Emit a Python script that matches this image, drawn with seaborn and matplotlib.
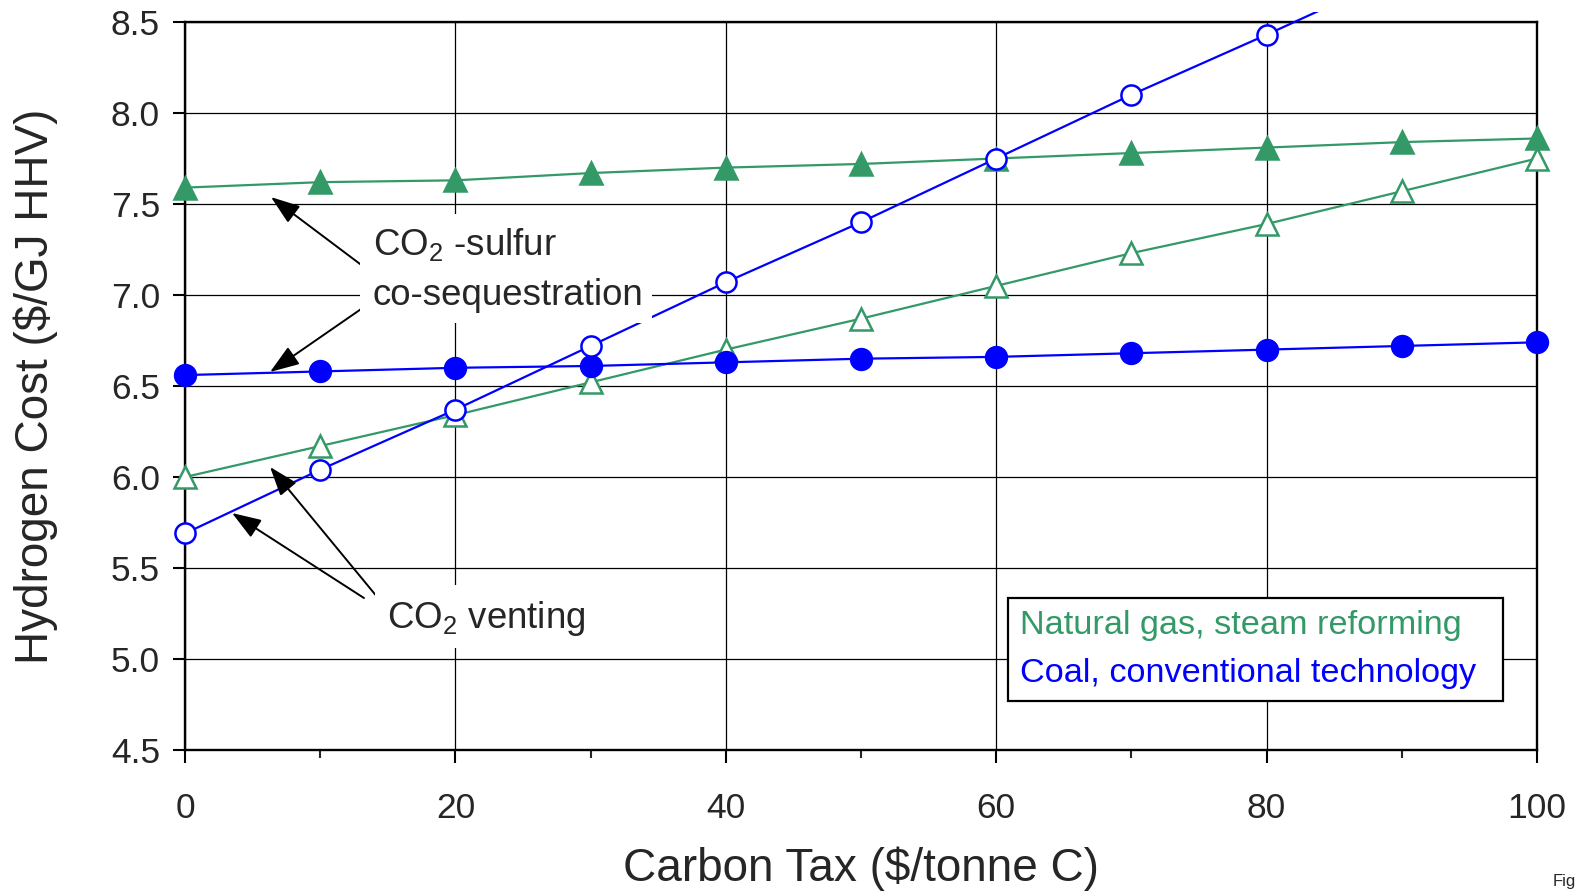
import matplotlib
matplotlib.use("Agg")
import matplotlib.pyplot as plt
from matplotlib.patches import Rectangle
from matplotlib.lines import Line2D
from matplotlib.ticker import MultipleLocator
import seaborn as sns

# ---- data ----
carbon_tax = [0, 10, 20, 30, 40, 50, 60, 70, 80, 90, 100]
ng_seq = [7.59, 7.62, 7.63, 7.67, 7.70, 7.72, 7.75, 7.78, 7.81, 7.84, 7.86]
ng_vent = [6.00, 6.17, 6.34, 6.52, 6.70, 6.87, 7.05, 7.23, 7.39, 7.57, 7.75]
coal_seq = [6.56, 6.58, 6.60, 6.61, 6.63, 6.65, 6.66, 6.68, 6.70, 6.72, 6.74]
coal_vent = [5.69, 6.04, 6.37, 6.72, 7.07, 7.40, 7.75, 8.10, 8.43, 8.77, 9.11]

legend_labels = ["Natural gas, steam reforming", "Coal, conventional technology"]
x_label = "Carbon Tax ($/tonne C)"
y_label = "Hydrogen Cost ($/GJ HHV)"
y_tick_labels = ["4.5", "5.0", "5.5", "6.0", "6.5", "7.0", "7.5", "8.0", "8.5"]

GREEN = "#339966"
BLUE = "#0000FF"

sns.set_style("ticks")
plt.rcParams["font.family"] = ["Liberation Sans", "DejaVu Sans"]
plt.rcParams["mathtext.fontset"] = "custom"
plt.rcParams["mathtext.rm"] = "Liberation Sans"
plt.rcParams["mathtext.default"] = "regular"

fig = plt.figure(figsize=(15.76, 8.92), dpi=100)
ax = fig.add_axes([185 / 1576, 1 - 750 / 892, 1352 / 1576, 728 / 892])

clip_rect = Rectangle((-5, 4.3), 110, 4.255, transform=ax.transData)

def draw(y, color, marker, filled, ms):
    sns.lineplot(x=carbon_tax, y=y, ax=ax, color=color, marker=marker,
                 markersize=ms, linewidth=1.6,
                 markerfacecolor=color if filled else "white",
                 markeredgecolor=color, markeredgewidth=1.8,
                 zorder=3)
    ln = ax.lines[-1]
    ln.set_clip_path(clip_rect)

draw(ng_seq, GREEN, "^", True, 16.5)
draw(ng_vent, GREEN, "^", False, 16.5)
draw(coal_seq, BLUE, "o", True, 15)
draw(coal_vent, BLUE, "o", False, 14.5)

ax.set_xlim(0, 100)
ax.set_ylim(4.5, 8.5)
ax.xaxis.set_major_locator(MultipleLocator(20))
ax.xaxis.set_minor_locator(MultipleLocator(10))
ax.set_yticks([float(t) for t in y_tick_labels])
ax.set_yticklabels(y_tick_labels)

ax.grid(True, which="major", color="black", linewidth=0.9, zorder=0)
ax.set_axisbelow(True)
for s in ax.spines.values():
    s.set_visible(True)
    s.set_linewidth(1.7)
    s.set_color("black")

ax.tick_params(axis="both", which="major", direction="out", length=9,
               width=1.5, labelsize=25.5, color="black")
ax.tick_params(axis="x", which="major", pad=21)
ax.tick_params(axis="y", which="major", pad=9)
ax.tick_params(axis="x", which="minor", direction="out", length=6, width=1.5)

ax.set_xlabel(x_label, fontsize=33)
ax.set_ylabel(y_label, fontsize=33)
ax.xaxis.set_label_coords(0.5, -0.132)
ax.yaxis.set_label_coords(-0.094, 0.5)

# ---- annotations ----
arrow_kw = dict(arrowstyle="-|>,head_length=0.9,head_width=0.32",
                color="black", lw=1.4, shrinkA=0, shrinkB=0,
                mutation_scale=20)
seq_arrows = [((13.24, 7.154), (6.36, 7.538)), ((13.24, 6.934), (6.29, 6.577))]
vent_arrows = [((13.24, 5.335), (3.48, 5.802)), ((14.28, 5.335), (6.29, 6.055))]
for start, tip in seq_arrows + vent_arrows:
    ax.annotate("", xy=tip, xytext=start, arrowprops=arrow_kw, zorder=5,
                annotation_clip=False)

# white backgrounds behind the annotation texts
ax.add_patch(Rectangle((12.94, 6.846), 21.6, 0.599, facecolor="white",
                       edgecolor="none", zorder=5.5))
ax.add_patch(Rectangle((14.05, 5.060), 15.9, 0.347, facecolor="white",
                       edgecolor="none", zorder=5.5))

ax.text(13.9, 7.220, "CO$_2$ -sulfur", fontsize=26.4, ha="left",
        va="baseline", zorder=6)
ax.text(13.9, 6.945, "co-sequestration", fontsize=26.4, ha="left",
        va="baseline", zorder=6)
ax.text(14.94, 5.170, "CO$_2$ venting", fontsize=26.4, ha="left",
        va="baseline", zorder=6)

handles = [Line2D([], [], linestyle="none") for _ in legend_labels]
leg = ax.legend(handles, legend_labels, loc="upper left",
                bbox_to_anchor=(0.6087, 0.070, 0.366, 0.1388), mode="expand",
                fontsize=24.7,
                labelcolor=[GREEN, BLUE], handlelength=0, handletextpad=0,
                frameon=True, fancybox=False, framealpha=1,
                edgecolor="black", borderpad=0.35, labelspacing=0.5,
                borderaxespad=0)
leg.get_frame().set_linewidth(1.6)
leg.set_zorder(7)

fig.text(1553 / 1576, 1 - 874 / 892, "Figure", fontsize=12, ha="left", va="top")

fig.savefig("out.png", dpi=100)
